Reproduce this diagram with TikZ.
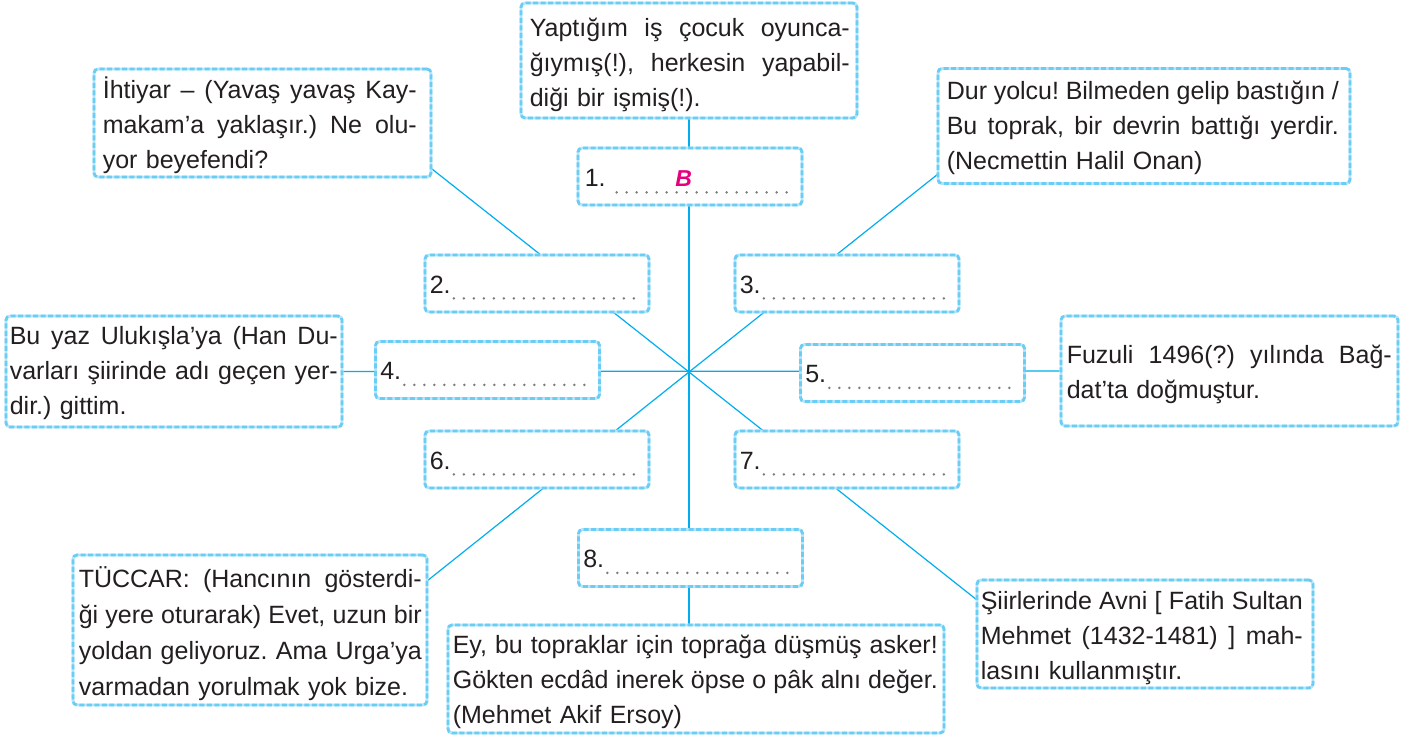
\documentclass[tikz,border=0pt]{standalone}
\usepackage{fontspec}
\setmainfont{Liberation Sans}
\usetikzlibrary{calc,backgrounds}
\definecolor{linkc}{HTML}{00AEEF}
\definecolor{bxlight}{HTML}{B5E6FB}
\definecolor{bxdark}{HTML}{6ACDF5}
\definecolor{txt}{HTML}{231F20}
\definecolor{dotc}{HTML}{7A7A7A}
\definecolor{mag}{HTML}{E6007E}
\newcommand\jl[2]{\leavevmode\hbox to #1{\spaceskip=0.278em plus 1fil minus 0.08em\relax #2}}
\hbadness=10000
\frenchspacing
\begin{document}
\begin{tikzpicture}[x=1pt,y=-1pt,
  frame/.style={draw=bxlight, line width=2.8pt, rounded corners=4pt, fill=white, inner sep=0pt,
     postaction={draw=bxdark, line width=2.8pt, dash pattern=on 5pt off 2.5pt}},
  ansbox/.style={frame, minimum width=224pt, minimum height=57pt},
  tx/.style={anchor=west, inner sep=0pt, align=left, text=txt, font=\fontsize{25}{35}\selectfont\frenchspacing},
  num/.style={anchor=base west, inner sep=0pt, text=txt, font=\fontsize{25}{30}\selectfont},
  dots/.style={draw=dotc, line width=2.7pt, line cap=round, dash pattern=on 0pt off 10pt},
  link/.style={draw=linkc, line width=1.2pt}]
\useasboundingbox (0,0) rectangle (1411,737);

% text boxes
\node[frame, minimum width=336pt, minimum height=115pt] (top) at (689,60.5) {};
\node[frame, minimum width=337pt, minimum height=108pt] (tl) at (262.5,123) {};
\node[frame, minimum width=412pt, minimum height=115pt] (tr) at (1144,126) {};
\node[frame, minimum width=336pt, minimum height=111pt] (lf) at (174,371.5) {};
\node[frame, minimum width=337pt, minimum height=110pt] (rt) at (1229.5,371) {};
\node[frame, minimum width=354pt, minimum height=150pt] (bl) at (250,630) {};
\node[frame, minimum width=496pt, minimum height=108pt] (bt) at (696,679) {};
\node[frame, minimum width=336pt, minimum height=108pt] (br) at (1145,634) {};

\node[tx, text width=320pt] (ttop) at ($(top.west)+(10,4)$)
  {\jl{320pt}{Yaptığım iş çocuk oyunca-}\\\jl{320pt}{ğıymış(!), herkesin yapabil-}\\diği bir işmiş(!).};
\node[tx, text width=314pt] (ttl) at ($(tl.west)+(10,2)$)
  {\jl{314pt}{İhtiyar -- (Yavaş yavaş Kay-}\\\jl{314pt}{makam’a yaklaşır.) Ne olu-}\\yor beyefendi?};
\node[tx, text width=394pt] (ttr) at ($(tr.west)+(10,2)$)
  {\jl{392pt}{Dur yolcu! Bilmeden gelip bastığın /}\\\jl{392pt}{Bu toprak, bir devrin battığı yerdir.}\\(Necmettin Halil Onan)};
\node[tx, text width=328pt] (tlf) at ($(lf.west)+(5,2)$)
  {\jl{328pt}{Bu yaz Ulukışla’ya (Han Du-}\\\jl{328pt}{varları şiirinde adı geçen yer-}\\dir.) gittim.};
\node[tx, text width=325pt] (trt) at ($(rt.west)+(7,3)$)
  {\jl{325pt}{Fuzuli 1496(?) yılında Bağ-}\\dat’ta doğmuştur.};
\node[tx, text width=343pt, font=\fontsize{25}{36}\selectfont\frenchspacing] (tbl) at ($(bl.west)+(7,4)$)
  {\jl{343pt}{TÜCCAR: (Hancının gösterdi-}\\\jl{343pt}{ği yere oturarak) Evet, uzun bir}\\\jl{343pt}{yoldan geliyoruz. Ama Urga’ya}\\varmadan yorulmak yok bize.};
\node[tx, text width=485pt] (tbt) at ($(bt.west)+(6,3)$)
  {\jl{485pt}{Ey, bu topraklar için toprağa düşmüş asker!}\\\jl{485pt}{Gökten ecdâd inerek öpse o pâk alnı değer.}\\(Mehmet Akif Ersoy)};
\node[tx, text width=322pt] (tbr) at ($(br.west)+(5,4)$)
  {\jl{322pt}{Şiirlerinde Avni [ Fatih Sultan}\\\jl{322pt}{Mehmet (1432-1481) ] mah-}\\lasını kullanmıştır.};

% answer boxes
\node[ansbox] (a1) at (690,176.5) {};
\node[ansbox] (a2) at (537,283.5) {};
\node[ansbox] (a3) at (847,283.5) {};
\node[ansbox] (a4) at (487.5,370) {};
\node[ansbox] (a5) at (912.5,373) {};
\node[ansbox] (a6) at (537,459.5) {};
\node[ansbox] (a7) at (847,459.5) {};
\node[ansbox] (a8) at (690.5,558) {};

\node[num] (n1) at ($(a1.south west)+(8,-20)$) {1.};
\draw[dots] ($(a1.south west)+(40,-14)$) -- ($(a1.south east)+(-12,-14)$);
\node[anchor=base, inner sep=0pt, text=mag, font=\fontsize{23}{26}\selectfont\bfseries\itshape] (ans) at ($(a1.south west)+(107,-20)$) {B};
\foreach \i in {2,...,8}{
  \node[num] (n\i) at ($(a\i.south west)+(6,-20)$) {\i.};
  \draw[dots] ($(n\i.base east)+(3,5)$) -- ($(a\i.south east)+(-11,-15)$);
}

% connectors
\begin{scope}[on background layer]
\coordinate (C) at (689,372);
\coordinate (p1) at (432,169);
\coordinate (p2) at (977,600);
\coordinate (p3) at (938,174);
\coordinate (p4) at (427,581);
\draw[link] (top.south) -- (top.south |- bt.north);
\draw[link] (lf.east) -- (rt.west);
\draw[link] (p1) -- (C) -- (p2);
\draw[link] (p3) -- (C) -- (p4);
\end{scope}
\end{tikzpicture}
\end{document}
